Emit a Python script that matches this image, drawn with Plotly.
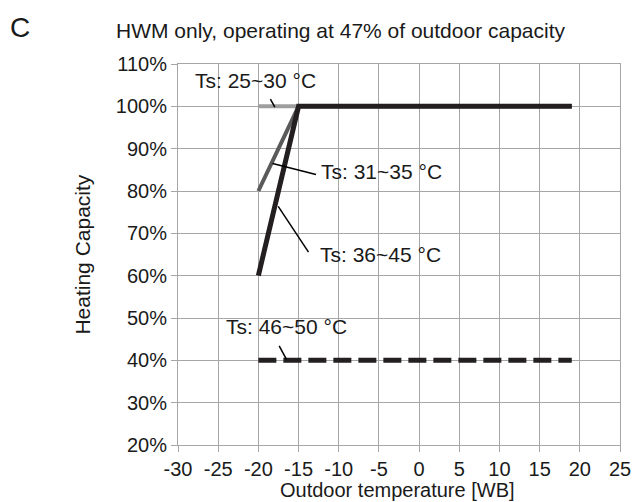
import plotly.graph_objects as go

# Heating capacity vs outdoor wet-bulb temperature, by supply water temperature band
temp_25_30 = [-20, -15]
cap_25_30 = [100, 100]

temp_31_35 = [-20, -15, 19]
cap_31_35 = [80, 100, 100]

temp_36_45 = [-20, -15, 19]
cap_36_45 = [60, 100, 100]

temp_46_50 = [-20, 19]
cap_46_50 = [40, 40]

x_ticks = [-30, -25, -20, -15, -10, -5, 0, 5, 10, 15, 20, 25]
x_tick_text = ["-30", "-25", "-20", "-15", "-10", "-5", "0", "5", "10", "15", "20", "25"]
y_ticks = [20, 30, 40, 50, 60, 70, 80, 90, 100, 110]
y_tick_text = ["20%", "30%", "40%", "50%", "60%", "70%", "80%", "90%", "100%", "110%"]

FONT = "Liberation Sans, Arial, sans-serif"
GRID = "#a6a6a6"
INK = "#231f20"
TEXT = "#1a1a1a"

fig = go.Figure()
fig.add_trace(go.Scatter(x=temp_25_30, y=cap_25_30, mode="lines",
                         line=dict(color="#9e9e9e", width=4), showlegend=False))
fig.add_trace(go.Scatter(x=temp_31_35, y=cap_31_35, mode="lines",
                         line=dict(color="#5a5a5a", width=4), showlegend=False))
fig.add_trace(go.Scatter(x=temp_36_45, y=cap_36_45, mode="lines",
                         line=dict(color=INK, width=5), showlegend=False))
fig.add_trace(go.Scatter(x=temp_46_50, y=cap_46_50, mode="lines",
                         line=dict(color=INK, width=5, dash="18px,7px"), showlegend=False))

# series labels with leader lines
labels = [
    ("Ts: 25~30 °C", -20.4, 106.2, "center", (-18.5, 101.7, -17.95, 99.8)),
    ("Ts: 31~35 °C", -12.4, 84.7, "left", (-18.23, 86.5, -12.83, 83.9)),
    ("Ts: 36~45 °C", -12.6, 64.9, "left", (-17.53, 76.35, -13.76, 65.55)),
    ("Ts: 46~50 °C", -16.46, 47.9, "center", (-17.41, 43.4, -16.52, 40.3)),
]
for text, tx, ty, anchor, (x0, y0, x1, y1) in labels:
    fig.add_annotation(x=tx, y=ty, text=text, showarrow=False, xanchor=anchor,
                       yanchor="middle", font=dict(family=FONT, size=21, color=TEXT))
    fig.add_shape(type="line", x0=x0, y0=y0, x1=x1, y1=y1, xref="x", yref="y",
                  line=dict(color="#000000", width=1.5))

# title and panel letter
fig.add_annotation(x=0.369, y=1.089, xref="paper", yref="paper", showarrow=False,
                   xanchor="center", yanchor="middle",
                   text="HWM only, operating at 47% of outdoor capacity",
                   font=dict(family=FONT, size=21, color=TEXT))
fig.add_annotation(x=-0.357, y=1.097, xref="paper", yref="paper", showarrow=False,
                   xanchor="center", yanchor="middle",
                   text="C", font=dict(family=FONT, size=28, color=TEXT))

# axis titles
fig.add_annotation(x=0.496, y=-0.118, xref="paper", yref="paper", showarrow=False,
                   xanchor="center", yanchor="middle",
                   text="Outdoor temperature [WB]",
                   font=dict(family=FONT, size=20, color=TEXT))
fig.add_annotation(x=-0.217, y=0.5, xref="paper", yref="paper", showarrow=False,
                   xanchor="center", yanchor="middle",
                   text="Heating Capacity", textangle=-90,
                   font=dict(family=FONT, size=21, color=TEXT))

axis_common = dict(showgrid=True, gridcolor=GRID, gridwidth=1, showline=True,
                   linecolor=GRID, linewidth=1, mirror=True, ticks="outside",
                   ticklen=6, tickcolor=GRID, zeroline=False,
                   tickfont=dict(family=FONT, size=20, color=TEXT))

fig.update_xaxes(range=[-30, 25], tickvals=x_ticks, ticktext=x_tick_text, **axis_common)
fig.update_yaxes(range=[20, 110], tickvals=y_ticks, ticktext=y_tick_text, **axis_common)

fig.update_layout(width=643, height=502, margin=dict(l=178, r=13, t=64, b=57),
                  paper_bgcolor="white", plot_bgcolor="white")

fig.write_html("out.html")
